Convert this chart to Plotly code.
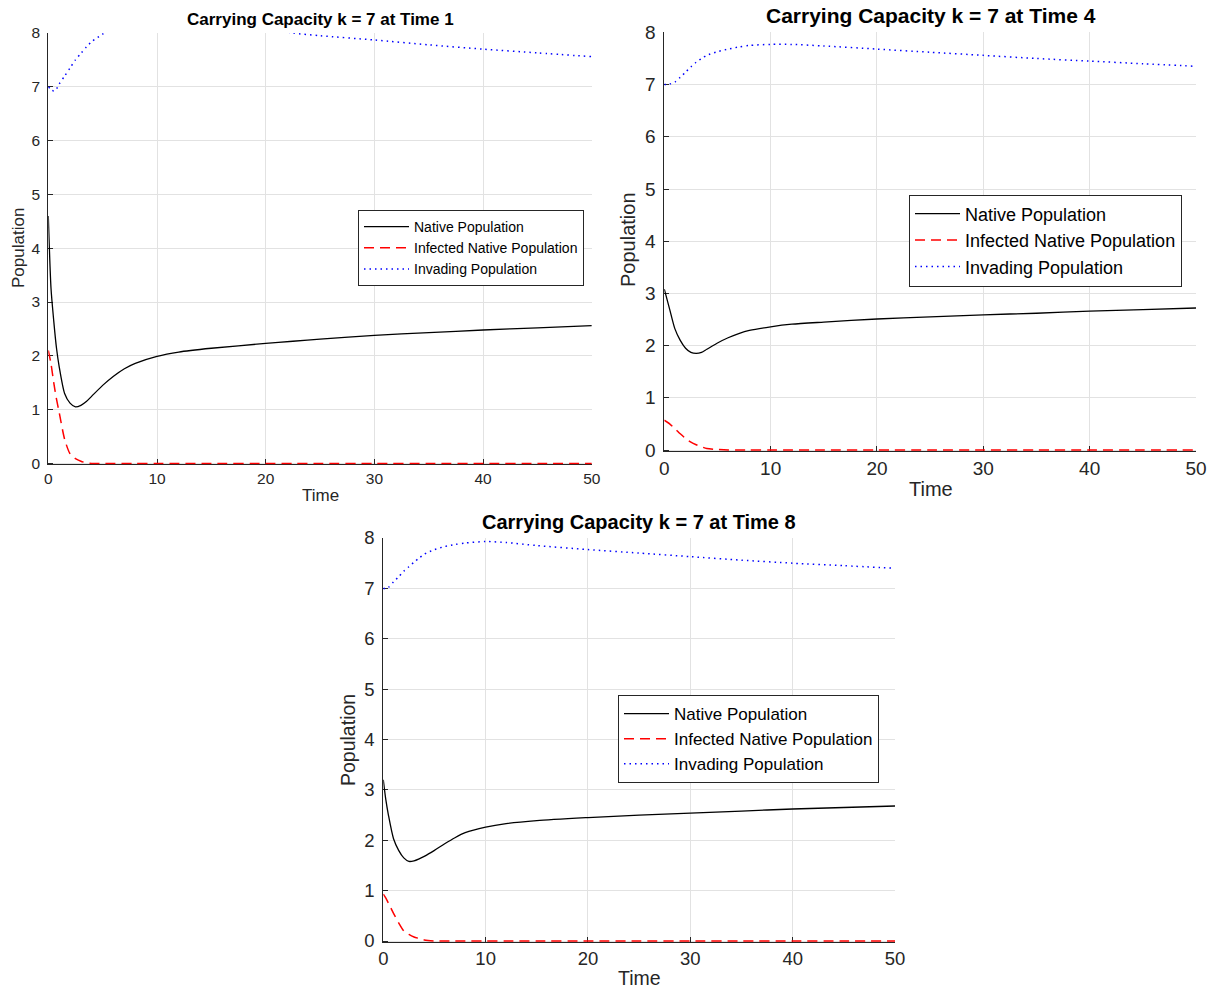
import plotly.graph_objects as go

W, H = 1215, 990
FONT = "Liberation Sans, Arial, Helvetica, sans-serif"

# ---------------- data ----------------
# Panel 1: Time 1
t1 = [0, 0.25, 0.5, 0.75, 1, 1.5, 2, 2.5, 3, 3.5, 4, 5, 6, 7, 8, 10, 12, 15, 20, 22.5, 25, 30, 35, 40, 45, 50]
native1 = [4.6, 3.25, 2.65, 2.15, 1.8, 1.3, 1.12, 1.05, 1.08, 1.15, 1.25, 1.45, 1.62, 1.76, 1.86, 1.99, 2.07, 2.14, 2.23, 2.27, 2.31, 2.38, 2.43, 2.48, 2.52, 2.56]
infected1 = [2.1, 1.85, 1.5, 1.2, 0.95, 0.45, 0.18, 0.09, 0.04, 0.01, 0, 0, 0, 0, 0, 0, 0, 0, 0, 0, 0, 0, 0, 0, 0, 0]
invading1 = [7.0, 6.95, 6.92, 6.96, 7.05, 7.2, 7.35, 7.5, 7.62, 7.74, 7.84, 7.98, 8.1, 8.2, 8.28, 8.37, 8.4, 8.32, 8.1, 8.0, 7.95, 7.87, 7.78, 7.70, 7.63, 7.56]

# Panel 2: Time 4
t4 = [0, 0.5, 1, 1.5, 2, 2.5, 3, 3.5, 4, 5, 6, 7, 8, 10, 12, 15, 20, 25, 30, 35, 40, 45, 50]
native4 = [3.08, 2.7, 2.32, 2.1, 1.95, 1.87, 1.85, 1.87, 1.93, 2.05, 2.15, 2.23, 2.29, 2.36, 2.41, 2.45, 2.51, 2.55, 2.59, 2.62, 2.66, 2.69, 2.72]
infected4 = [0.57, 0.5, 0.41, 0.31, 0.22, 0.15, 0.1, 0.06, 0.03, 0.01, 0, 0, 0, 0, 0, 0, 0, 0, 0, 0, 0, 0, 0]
invading4 = [7.0, 7.01, 7.05, 7.14, 7.24, 7.34, 7.43, 7.5, 7.56, 7.63, 7.68, 7.72, 7.75, 7.77, 7.77, 7.74, 7.68, 7.62, 7.56, 7.5, 7.45, 7.4, 7.35]

# Panel 3: Time 8
t8 = [0, 0.25, 0.5, 1, 1.5, 2, 2.5, 3, 3.5, 4, 5, 6, 7, 8, 10, 12, 15, 20, 25, 30, 35, 40, 45, 50]
native8 = [3.2, 2.8, 2.5, 2.03, 1.8, 1.65, 1.58, 1.59, 1.63, 1.68, 1.8, 1.93, 2.05, 2.15, 2.26, 2.33, 2.39, 2.45, 2.5, 2.54, 2.58, 2.62, 2.65, 2.68]
infected8 = [0.93, 0.85, 0.75, 0.55, 0.36, 0.2, 0.13, 0.08, 0.05, 0.02, 0, 0, 0, 0, 0, 0, 0, 0, 0, 0, 0, 0, 0, 0]
invading8 = [7.0, 7.0, 7.02, 7.13, 7.23, 7.34, 7.43, 7.52, 7.6, 7.68, 7.77, 7.83, 7.87, 7.9, 7.93, 7.91, 7.85, 7.77, 7.7, 7.63, 7.56, 7.5, 7.45, 7.4]

titles = ["Carrying Capacity k = 7 at Time 1",
          "Carrying Capacity k = 7 at Time 4",
          "Carrying Capacity k = 7 at Time 8"]
series_names = ["Native Population", "Infected Native Population", "Invading Population"]
x_ticks = [0, 10, 20, 30, 40, 50]
y_ticks = [0, 1, 2, 3, 4, 5, 6, 7, 8]

# ---------------- layout geometry (pixels) ----------------
panels = [
    dict(t=t1, ys=[native1, infected1, invading1], x0=48.3, x1=591.8, ybot=463.4, ytop=33.0,
         tick=15.5, lab=17, ttl=17, leg=14, title_xy=(320, 19), xl_xy=(320, 495), yl_xy=(18, 248),
         leg_xy=(358, 248)),
    dict(t=t4, ys=[native4, infected4, invading4], x0=664.3, x1=1196.0, ybot=450.0, ytop=32.4,
         tick=19, lab=20, ttl=21, leg=18, title_xy=(931, 16), xl_xy=(931, 489), yl_xy=(628, 240),
         leg_xy=(909, 240.5)),
    dict(t=t8, ys=[native8, infected8, invading8], x0=383.3, x1=895.0, ybot=941.0, ytop=538.0,
         tick=18.5, lab=19.5, ttl=20, leg=17, title_xy=(639, 522), xl_xy=(639, 978), yl_xy=(348, 740),
         leg_xy=(618, 739)),
]

styles = [
    dict(color="black", width=1.3, dash="solid"),
    dict(color="red", width=1.5, dash="10px,6px"),
    dict(color="blue", width=1.5, dash="1.5px,4px"),
]

YMIN = -0.02
fig = go.Figure()
annotations = []
layout = dict(width=W, height=H, margin=dict(l=0, r=0, t=0, b=0, autoexpand=False),
              paper_bgcolor="white", plot_bgcolor="white",
              font=dict(family=FONT, color="#262626"), showlegend=True)

for i, p in enumerate(panels):
    n = "" if i == 0 else str(i + 1)
    unit = (p["ybot"] - p["ytop"]) / 8.0
    ybot = p["ybot"] - YMIN * unit
    xa, ya = "x" + n, "y" + n
    leg = "legend" + n
    for name, y, st in zip(series_names, p["ys"], styles):
        fig.add_trace(go.Scatter(x=p["t"], y=y, mode="lines", name=name, xaxis=xa, yaxis=ya,
                                 legend=leg,
                                 line=dict(color=st["color"], width=st["width"], dash=st["dash"],
                                           shape="spline", smoothing=0.7)))
    axis_common = dict(showline=True, linecolor="#262626", linewidth=1, ticks="inside", ticklen=5,
                       tickcolor="#262626", showgrid=True, gridcolor="#e2e2e2", gridwidth=1,
                       zeroline=False, layer="below traces", automargin=False,
                       tickfont=dict(family=FONT, size=p["tick"], color="#262626"))
    layout["xaxis" + n] = dict(axis_common, domain=[p["x0"] / W, p["x1"] / W], anchor=ya,
                               range=[0, 50], tickvals=x_ticks)
    layout["yaxis" + n] = dict(axis_common, domain=[1 - ybot / H, 1 - p["ytop"] / H], anchor=xa,
                               range=[YMIN, 8], tickvals=y_ticks, ticklabelstandoff=4)
    layout[leg] = dict(x=p["leg_xy"][0] / W, y=1 - p["leg_xy"][1] / H, xanchor="left", yanchor="middle",
                       bgcolor="white", bordercolor="#262626", borderwidth=1, itemwidth=45,
                       tracegroupgap=0, font=dict(family=FONT, size=p["leg"], color="black"))
    annotations.append(dict(text="<b>" + titles[i] + "</b>", x=p["title_xy"][0] / W,
                            y=1 - p["title_xy"][1] / H, xref="paper", yref="paper",
                            showarrow=False, xanchor="center", yanchor="middle",
                            font=dict(family=FONT, size=p["ttl"], color="black")))
    annotations.append(dict(text="Time", x=p["xl_xy"][0] / W, y=1 - p["xl_xy"][1] / H,
                            xref="paper", yref="paper", showarrow=False, xanchor="center",
                            yanchor="middle", font=dict(family=FONT, size=p["lab"], color="#262626")))
    annotations.append(dict(text="Population", x=p["yl_xy"][0] / W, y=1 - p["yl_xy"][1] / H,
                            xref="paper", yref="paper", showarrow=False, xanchor="center",
                            yanchor="middle", textangle=-90,
                            font=dict(family=FONT, size=p["lab"], color="#262626")))

layout["annotations"] = annotations
fig.update_layout(**layout)
fig.write_html("out.html")
